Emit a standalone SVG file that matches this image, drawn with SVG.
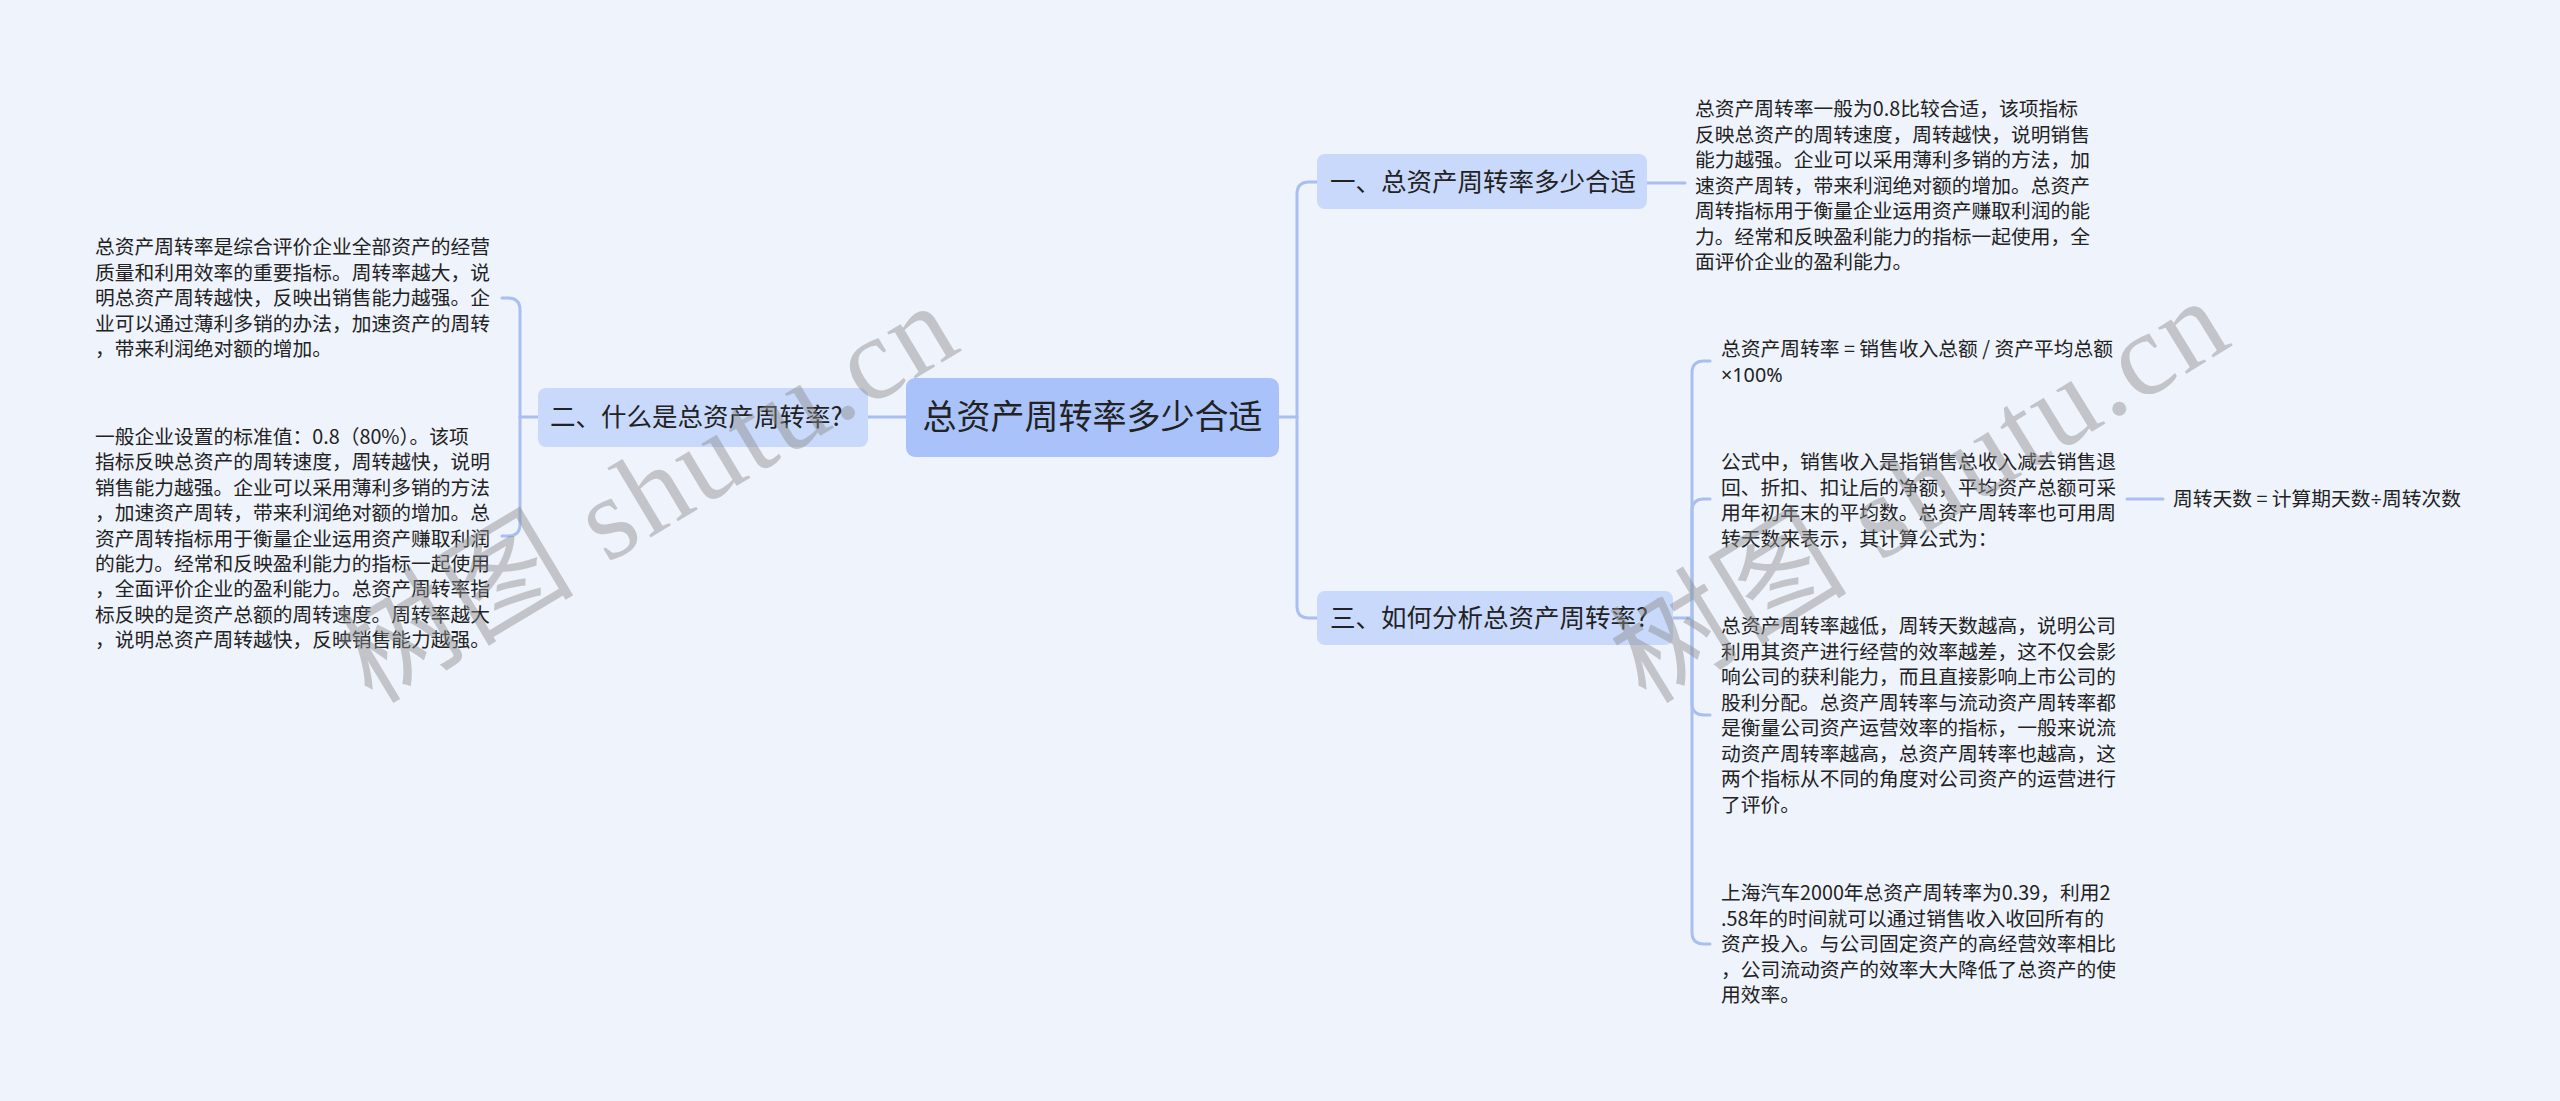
<svg xmlns="http://www.w3.org/2000/svg" width="2560" height="1101" viewBox="0 0 2560 1101">
<style>
.bg{fill:#eef3fc}
.root{fill:#a9c2fa}
.br{fill:#c9d9fb}
.ln{fill:none;stroke:#a8bff0;stroke-width:3;stroke-linecap:round}
.t{font-family:"Noto Sans CJK SC","Noto Sans",sans-serif;fill:#222}
.s{font-size:19.75px}
.m{font-size:25.5px}
.r{font-size:34px}
.lat{font-family:"Noto Sans",sans-serif}
.wm{font-family:"Liberation Serif","Noto Sans CJK SC",serif;font-size:118px;fill:#8c8c8c;fill-opacity:0.45}
</style>
<rect class="bg" x="0" y="0" width="2560" height="1101"/>
<g id="connectors">
<path class="ln" d="M1279 417 H1297"/>
<path class="ln" d="M1297 417 V194 Q1297 182 1309 182 H1317"/>
<path class="ln" d="M1297 417 V606 Q1297 618 1309 618 H1317"/>
<path class="ln" d="M906 417 H868"/>
<path class="ln" d="M538 417 H520"/>
<path class="ln" d="M520 417 V310 Q520 298 508 298 H502"/>
<path class="ln" d="M520 417 V524 Q520 536 508 536 H502"/>
<path class="ln" d="M1647 183 H1685"/>
<path class="ln" d="M1673 618 H1692"/>
<path class="ln" d="M1692 618 V373 Q1692 361 1704 361 H1710"/>
<path class="ln" d="M1692 618 V511 Q1692 499 1704 499 H1710"/>
<path class="ln" d="M1692 618 V703 Q1692 715 1704 715 H1710"/>
<path class="ln" d="M1692 618 V932 Q1692 944 1704 944 H1710"/>
<path class="ln" d="M2127 499 H2163"/>
</g>
<g id="root">
<rect class="root" x="906" y="378" width="373" height="79" rx="9"/>
<text class="t r" x="1092.5" y="429" text-anchor="middle">总资产周转率多少合适</text>
</g>
<g id="b1">
<rect class="br" x="1317" y="154" width="330" height="55" rx="8"/>
<text class="t m" x="1330" y="191">一、总资产周转率多少合适</text>
</g>
<g id="b2">
<rect class="br" x="538" y="388" width="330" height="59" rx="8"/>
<text class="t m" x="550" y="426">二、什么是总资产周转率?</text>
</g>
<g id="b3">
<rect class="br" x="1317" y="591" width="356" height="54" rx="8"/>
<text class="t m" x="1330" y="627">三、如何分析总资产周转率?</text>
</g>
<g id="l1">
<text class="t s">
<tspan x="95" y="254">总资产周转率是综合评价企业全部资产的经营</tspan>
<tspan x="95" y="279.5">质量和利用效率的重要指标。周转率越大，说</tspan>
<tspan x="95" y="305">明总资产周转越快，反映出销售能力越强。企</tspan>
<tspan x="95" y="330.5">业可以通过薄利多销的办法，加速资产的周转</tspan>
<tspan x="95" y="356">，带来利润绝对额的增加。</tspan>
</text>
</g>
<g id="l2">
<text class="t s">
<tspan x="95" y="444">一般企业设置的标准值：0.8（80%）。该项</tspan>
<tspan x="95" y="469.4">指标反映总资产的周转速度，周转越快，说明</tspan>
<tspan x="95" y="494.8">销售能力越强。企业可以采用薄利多销的方法</tspan>
<tspan x="95" y="520.2">，加速资产周转，带来利润绝对额的增加。总</tspan>
<tspan x="95" y="545.6">资产周转指标用于衡量企业运用资产赚取利润</tspan>
<tspan x="95" y="571">的能力。经常和反映盈利能力的指标一起使用</tspan>
<tspan x="95" y="596.4">，全面评价企业的盈利能力。总资产周转率指</tspan>
<tspan x="95" y="621.8">标反映的是资产总额的周转速度。周转率越大</tspan>
<tspan x="95" y="647.2">，说明总资产周转越快，反映销售能力越强。</tspan>
</text>
</g>
<g id="r1">
<text class="t s">
<tspan x="1695" y="116">总资产周转率一般为0.8比较合适，该项指标</tspan>
<tspan x="1695" y="141.5">反映总资产的周转速度，周转越快，说明销售</tspan>
<tspan x="1695" y="167">能力越强。企业可以采用薄利多销的方法，加</tspan>
<tspan x="1695" y="192.5">速资产周转，带来利润绝对额的增加。总资产</tspan>
<tspan x="1695" y="218">周转指标用于衡量企业运用资产赚取利润的能</tspan>
<tspan x="1695" y="243.5">力。经常和反映盈利能力的指标一起使用，全</tspan>
<tspan x="1695" y="269">面评价企业的盈利能力。</tspan>
</text>
</g>
<g id="r2">
<text class="t s">
<tspan x="1721" y="356">总资产周转率 = 销售收入总额 / 资产平均总额</tspan>
<tspan x="1721" y="381.5" class="lat">×100%</tspan>
</text>
</g>
<g id="r3">
<text class="t s">
<tspan x="1721" y="469">公式中，销售收入是指销售总收入减去销售退</tspan>
<tspan x="1721" y="494.5">回、折扣、扣让后的净额，平均资产总额可采</tspan>
<tspan x="1721" y="520">用年初年末的平均数。总资产周转率也可用周</tspan>
<tspan x="1721" y="545.5">转天数来表示，其计算公式为：</tspan>
</text>
</g>
<g id="r6">
<text class="t s" x="2173" y="506">周转天数 = 计算期天数<tspan class="lat">÷</tspan>周转次数</text>
</g>
<g id="r4">
<text class="t s">
<tspan x="1721" y="633">总资产周转率越低，周转天数越高，说明公司</tspan>
<tspan x="1721" y="658.5">利用其资产进行经营的效率越差，这不仅会影</tspan>
<tspan x="1721" y="684">响公司的获利能力，而且直接影响上市公司的</tspan>
<tspan x="1721" y="709.5">股利分配。总资产周转率与流动资产周转率都</tspan>
<tspan x="1721" y="735">是衡量公司资产运营效率的指标，一般来说流</tspan>
<tspan x="1721" y="760.5">动资产周转率越高，总资产周转率也越高，这</tspan>
<tspan x="1721" y="786">两个指标从不同的角度对公司资产的运营进行</tspan>
<tspan x="1721" y="811.5">了评价。</tspan>
</text>
</g>
<g id="r5">
<text class="t s">
<tspan x="1721" y="900">上海汽车2000年总资产周转率为0.39，利用2</tspan>
<tspan x="1721" y="925.5">.58年的时间就可以通过销售收入收回所有的</tspan>
<tspan x="1721" y="951">资产投入。与公司固定资产的高经营效率相比</tspan>
<tspan x="1721" y="976.5">，公司流动资产的效率大大降低了总资产的使</tspan>
<tspan x="1721" y="1002">用效率。</tspan>
</text>
</g>
<g id="watermark">
<text class="wm" transform="translate(372 705) rotate(-31)" textLength="690" lengthAdjust="spacing">树图 shutu.cn</text>
<text class="wm" transform="translate(1646 705) rotate(-31.5)" textLength="690" lengthAdjust="spacing">树图 shutu.cn</text>
</g>
</svg>
